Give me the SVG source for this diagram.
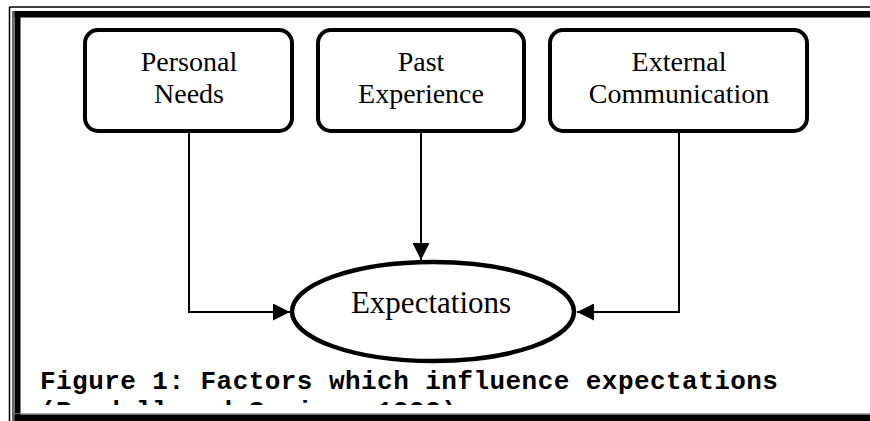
<svg xmlns="http://www.w3.org/2000/svg" width="870" height="421" viewBox="0 0 870 421">
<style>
.box{fill:#fff;stroke:#000;stroke-width:4}
.lbl{font-family:"Liberation Serif","Times New Roman",serif;font-size:28px;fill:#000;text-anchor:middle}
.conn{fill:none;stroke:#000;stroke-width:2}
.cap{font-family:"Liberation Mono","Courier New",monospace;font-weight:bold;font-size:26px;letter-spacing:0.45px;fill:#000}
</style>
<defs>
<marker id="arr" markerUnits="userSpaceOnUse" markerWidth="17" markerHeight="17" refX="17" refY="8.5" orient="auto">
<path d="M0,0 L17,8.5 L0,17 Z" fill="#000"/>
</marker>
<clipPath id="capclip"><rect x="0" y="0" width="870" height="405"/></clipPath>
</defs>
<rect x="0" y="0" width="870" height="421" fill="#fff"/>
<g id="caption">
<text class="cap" x="40" y="389">Figure 1: Factors which influence expectations</text>
<text class="cap" x="40" y="419" clip-path="url(#capclip)">(Randall and Senior, 1992)</text>
</g>
<g id="frame">
<line x1="9.5" y1="7" x2="870" y2="7" stroke="#000" stroke-width="1.5"/>
<line x1="9.5" y1="7" x2="9.5" y2="421" stroke="#000" stroke-width="1.5"/>
<line x1="13" y1="11" x2="13" y2="421" stroke="#000" stroke-width="1.2"/>
<rect x="14.5" y="11" width="6" height="410" fill="#000"/>
<rect x="14.5" y="11" width="856" height="6.5" fill="#000"/>
<line x1="14.5" y1="413.8" x2="870" y2="413.8" stroke="#888" stroke-width="1"/>
<rect x="14.5" y="414.5" width="856" height="6.5" fill="#000"/>
</g>
<g id="connectors">
<polyline class="conn" points="189,133 189,312 290,312" marker-end="url(#arr)"/>
<line class="conn" x1="421" y1="133" x2="421" y2="260" marker-end="url(#arr)"/>
<polyline class="conn" points="679,133 679,312 577,312" marker-end="url(#arr)"/>
</g>
<g id="personal-needs">
<rect class="box" x="85" y="30" width="207" height="101" rx="13"/>
<text class="lbl" x="189" y="71">Personal</text>
<text class="lbl" x="189" y="103">Needs</text>
</g>
<g id="past-experience">
<rect class="box" x="318" y="30" width="206" height="101" rx="13"/>
<text class="lbl" x="421" y="71">Past</text>
<text class="lbl" x="421" y="103">Experience</text>
</g>
<g id="external-communication">
<rect class="box" x="550" y="30" width="257" height="101" rx="13"/>
<text class="lbl" x="679" y="71">External</text>
<text class="lbl" x="679" y="103">Communication</text>
</g>
<g id="expectations">
<ellipse cx="433" cy="311.5" rx="141" ry="49.5" fill="none" stroke="#000" stroke-width="4.5"/>
<text class="lbl" x="431" y="312.5" style="font-size:31px">Expectations</text>
</g>
</svg>
